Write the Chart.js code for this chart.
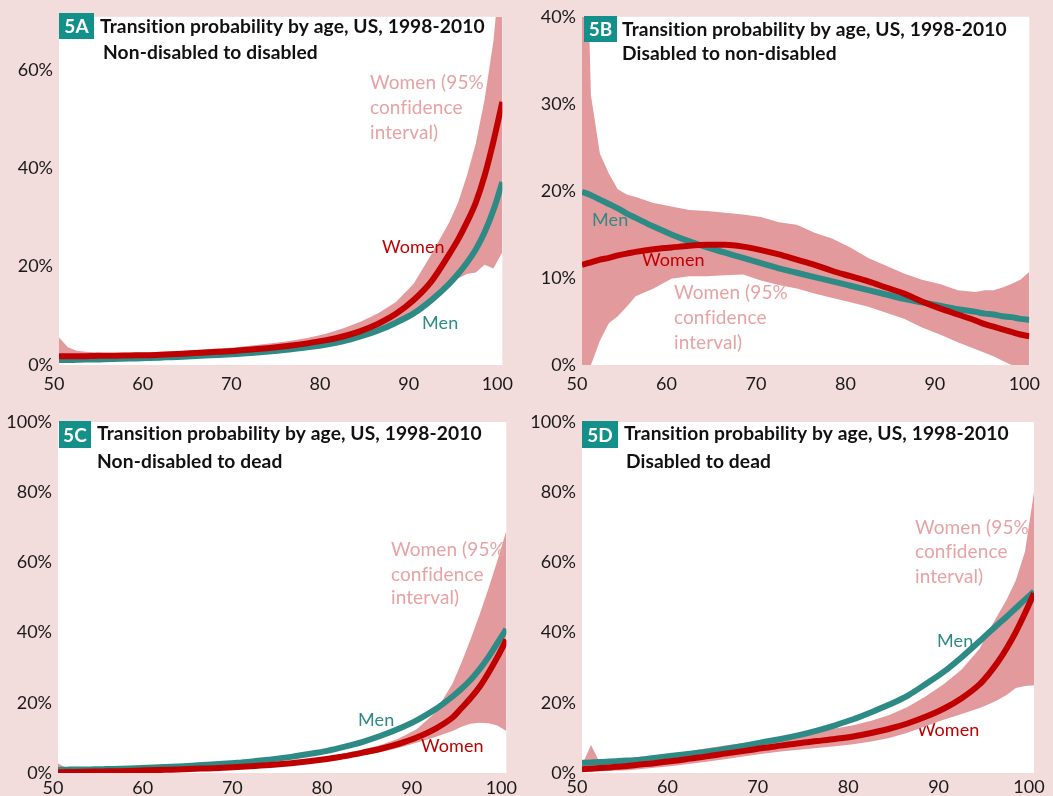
<!DOCTYPE html>
<html>
<head>
<meta charset="utf-8">
<script src="https://cdn.jsdelivr.net/npm/chart.js@4.4.1/dist/chart.umd.min.js"></script>
<style>
  html, body { margin: 0; padding: 0; background: #F2DCDC; }
  #page { position: relative; width: 1053px; height: 796px; background: #F2DCDC; overflow: hidden; }
  canvas { position: absolute; }
</style>
</head>
<body>
<div id="page">
  <canvas id="pA" width="526" height="398" style="left:0px;top:0px;"></canvas>
  <canvas id="pB" width="527" height="398" style="left:526px;top:0px;"></canvas>
  <canvas id="pC" width="526" height="398" style="left:0px;top:398px;"></canvas>
  <canvas id="pD" width="527" height="398" style="left:526px;top:398px;"></canvas>
</div>
<script>
// Ages (years) at which transition probabilities are given
const AGES = [50,51,52,53,54,55,56,58,60,62,64,66,68,70,72,74,76,78,80,82,84,86,88,90,92,94,95,96,97,98,99,100];

// 5A: non-disabled to disabled (%)
const A_WOMEN = [1.8,1.8,1.8,1.8,1.85,1.9,1.9,1.95,2.0,2.15,2.3,2.5,2.7,2.9,3.2,3.5,3.9,4.4,5.0,5.8,6.9,8.4,10.4,13.2,17.0,22.5,25.5,29.0,33.0,38.5,45.5,53.5];
const A_MEN   = [1.0,1.0,1.05,1.1,1.1,1.15,1.2,1.3,1.4,1.55,1.7,1.9,2.05,2.25,2.5,2.8,3.15,3.6,4.1,4.8,5.8,7.0,8.6,10.5,13.2,16.5,18.5,20.8,23.5,27.0,31.5,37.2];
const A_CI_LOW  = [1.3,1.4,1.5,1.5,1.55,1.6,1.6,1.65,1.7,1.85,2.0,2.15,2.35,2.55,2.8,3.05,3.4,3.85,4.35,5.0,5.9,7.1,8.8,11.0,13.8,16.6,17.6,18.5,18.8,20.4,19.6,23.0];
const A_CI_HIGH = [5.6,3.6,2.9,2.7,2.6,2.5,2.5,2.5,2.55,2.7,2.9,3.1,3.35,3.6,4.0,4.4,4.9,5.5,6.3,7.4,8.8,10.5,12.8,16.5,22.5,29.0,33.0,38.5,45.0,54.0,66.0,85.0];

// 5B: disabled to non-disabled (%)
const B_WOMEN = [11.5,11.8,12.1,12.3,12.6,12.8,13.0,13.3,13.5,13.7,13.8,13.8,13.6,13.2,12.7,12.1,11.5,10.8,10.2,9.6,8.9,8.2,7.3,6.5,5.8,5.1,4.7,4.4,4.1,3.8,3.5,3.3];
const B_MEN   = [19.9,19.5,19.0,18.5,18.0,17.4,16.9,15.9,15.0,14.2,13.5,12.9,12.3,11.7,11.1,10.6,10.1,9.6,9.1,8.6,8.1,7.6,7.2,6.8,6.4,6.1,5.9,5.8,5.6,5.5,5.3,5.2];
const B_CI_LOW  = [-5.0,0.0,2.8,4.8,5.6,6.7,7.9,8.8,9.9,10.2,10.2,10.3,10.4,9.7,9.2,8.8,8.2,7.7,7.2,6.7,6.0,5.3,4.3,3.5,2.6,1.8,1.4,1.0,0.5,0.0,-1.5,-3.0];
const B_CI_HIGH = [70.0,31.0,24.3,22.0,20.2,19.6,19.3,18.6,18.2,17.8,17.7,17.5,17.3,17.0,16.4,16.1,15.2,14.5,13.5,12.3,11.4,10.5,9.8,9.3,8.6,8.4,8.6,8.6,8.9,9.3,9.8,10.7];

// 5C: non-disabled to dead (%)
const C_WOMEN = [0.2,0.25,0.3,0.35,0.4,0.45,0.5,0.6,0.75,0.9,1.05,1.25,1.45,1.7,2.0,2.35,2.8,3.35,4.0,4.8,5.8,6.9,8.3,10.1,12.5,15.8,18.5,21.3,24.5,28.5,33.0,38.0];
const C_MEN   = [0.9,0.95,1.0,1.0,1.05,1.1,1.15,1.3,1.5,1.7,1.95,2.25,2.55,2.9,3.4,3.95,4.6,5.4,6.3,7.5,8.9,10.6,12.6,15.0,18.0,21.8,24.0,26.5,29.5,33.0,37.0,41.0];
const C_CI_LOW  = [0.0,0.0,0.1,0.1,0.15,0.2,0.25,0.35,0.5,0.6,0.75,0.95,1.1,1.35,1.6,1.95,2.35,2.85,3.4,4.1,5.0,6.0,7.2,8.6,10.2,12.0,13.2,14.0,14.3,14.2,13.5,12.0];
const C_CI_HIGH = [2.8,1.3,0.9,0.8,0.8,0.8,0.85,0.95,1.1,1.25,1.45,1.65,1.9,2.15,2.5,2.9,3.35,3.95,4.7,5.6,6.7,8.0,9.8,12.5,17.0,25.5,31.5,38.0,45.0,52.5,60.5,69.0];

// 5D: disabled to dead (%)
const D_WOMEN = [1.1,1.2,1.4,1.6,1.8,2.0,2.3,2.8,3.4,4.1,4.8,5.6,6.3,7.1,7.8,8.5,9.1,9.7,10.4,11.4,12.6,14.1,16.0,18.3,21.3,25.3,28.2,31.6,35.6,40.2,45.5,51.2];
const D_MEN   = [2.9,3.0,3.1,3.25,3.4,3.55,3.7,4.3,4.9,5.5,6.1,6.9,7.8,8.8,9.7,10.8,12.1,13.6,15.3,17.3,19.5,22.0,25.3,28.8,33.0,37.6,40.0,42.3,44.6,47.0,49.4,51.7];
const D_CI_LOW  = [0.3,0.4,0.5,0.6,0.7,0.8,1.0,1.5,2.0,2.6,3.3,4.0,4.8,5.5,6.1,6.6,7.1,7.6,8.2,9.0,10.0,11.5,13.3,15.2,16.8,18.5,19.6,20.8,22.3,24.2,24.8,25.0];
const D_CI_HIGH = [2.3,8.0,2.8,3.1,3.4,3.7,4.0,4.8,5.5,6.3,7.1,7.9,8.6,9.3,10.1,10.9,11.8,12.7,13.6,14.9,16.5,18.8,21.8,25.3,29.5,35.5,40.5,45.0,49.5,55.0,63.0,80.0];

const X_TICKS = [50, 60, 70, 80, 90, 100];

const RED = '#C00000';
const TEAL = '#2E8A84';
const BAND = '#E39A9C';
const BAND_TEXT = '#E8A2A4';
const BADGE = '#14908A';
const FONT = 'Lato, "Open Sans", sans-serif';
const TITLE_LINE_1 = 'Transition probability by age, US, 1998-2010';

function pts(values) {
  return AGES.map((a, i) => ({ x: a, y: values[i] }));
}

// bold title font sized so the first title line spans the given width
function titleFont(ctx, width) {
  ctx.font = 'bold 20px ' + FONT;
  const w = ctx.measureText(TITLE_LINE_1).width;
  return 'bold ' + (20 * width / w).toFixed(2) + 'px ' + FONT;
}

// One panel: plot box (left, top, right, bottom) in canvas pixels, y range, texts
function makePanel(id, cfg) {
  const canvas = document.getElementById(id);
  const W = canvas.width, H = canvas.height;
  const box = cfg.box;

  function drawLabels(ctx, under) {
    ctx.textBaseline = 'middle';
    ctx.textAlign = 'left';
    cfg.labels.filter(l => !!l.under === under).forEach(l => {
      ctx.font = (l.size || 18) + 'px ' + FONT;
      ctx.fillStyle = l.color;
      ctx.fillText(l.text, l.x, l.y);
    });
  }

  const panelPlugin = {
    id: 'panelDecor',
    beforeDraw(chart) {
      const { ctx, chartArea: a } = chart;
      ctx.save();
      ctx.fillStyle = '#FFFFFF';
      ctx.fillRect(a.left, a.top, a.right - a.left, a.bottom - a.top);
      drawLabels(ctx, true);   // labels that sit beneath the confidence band
      ctx.restore();
    },
    afterDatasetsDraw(chart) {
      const { ctx } = chart;
      ctx.save();
      if ('letterSpacing' in ctx) ctx.letterSpacing = '0.1px';
      drawLabels(ctx, false);
      // panel badge and title
      const b = cfg.badge;
      ctx.fillStyle = BADGE;
      ctx.fillRect(b.x, b.y, b.w, b.h);
      ctx.fillStyle = '#FFFFFF';
      ctx.font = 'bold 19px ' + FONT;
      ctx.textAlign = 'center';
      ctx.textBaseline = 'middle';
      ctx.fillText(cfg.tag, b.x + b.w / 2, b.y + b.h / 2 + 1);
      ctx.textAlign = 'left';
      ctx.fillStyle = '#111111';
      ctx.font = titleFont(ctx, 385);
      ctx.fillText(TITLE_LINE_1, cfg.title1.x, cfg.title1.y);
      ctx.fillText(cfg.title2.text, cfg.title2.x, cfg.title2.y);
      ctx.restore();
    }
  };

  return new Chart(canvas, {
    type: 'line',
    data: {
      datasets: [
        { label: 'Women', data: pts(cfg.women), borderColor: RED, borderWidth: 6,
          pointRadius: 0, cubicInterpolationMode: 'monotone', fill: false, clip: 0 },
        { label: 'Men', data: pts(cfg.men), borderColor: TEAL, borderWidth: 6,
          pointRadius: 0, cubicInterpolationMode: 'monotone', fill: false, clip: 0 },
        { label: 'Women 95% CI low', data: pts(cfg.lo), borderWidth: 0, borderColor: 'rgba(0,0,0,0)',
          pointRadius: 0, tension: 0, fill: false, clip: 0 },
        { label: 'Women 95% CI high', data: pts(cfg.hi), borderWidth: 0, borderColor: 'rgba(0,0,0,0)',
          backgroundColor: BAND, pointRadius: 0, tension: 0, fill: '-1', clip: 0 }
      ]
    },
    options: {
      responsive: false,
      animation: false,
      events: [],
      layout: { padding: { left: 0, top: box.top, right: W - box.right, bottom: 0 } },
      plugins: {
        legend: { display: false },
        tooltip: { enabled: false },
        filler: { drawTime: 'beforeDatasetsDraw' }
      },
      scales: {
        x: {
          type: 'linear', min: 50, max: 100,
          grid: { display: false, drawTicks: false },
          border: { display: false },
          afterFit(scale) { scale.height = H - box.bottom; },
          afterBuildTicks(scale) { scale.ticks = X_TICKS.map(v => ({ value: v })); },
          ticks: {
            padding: cfg.xPad, labelOffset: -5, maxRotation: 0, autoSkip: false,
            color: '#1A1A1A', font: { family: FONT, size: 18 },
            callback: v => String(v)
          }
        },
        y: {
          type: 'linear', min: 0, max: cfg.yMax,
          grid: { display: false, drawTicks: false },
          border: { display: false },
          afterFit(scale) { scale.width = box.left; },
          afterBuildTicks(scale) { scale.ticks = cfg.yTicks.map(v => ({ value: v })); },
          ticks: {
            padding: 6, color: '#1A1A1A', font: { family: FONT, size: 18 },
            callback: v => v + '%'
          }
        }
      }
    },
    plugins: [panelPlugin]
  });
}

const CI = ['Women (95%', 'confidence', 'interval)'];
function ciLabels(x, ys) {
  return CI.map((t, i) => ({ text: t, x: x, y: ys[i], color: BAND_TEXT, size: 19 }));
}

makePanel('pA', {
  box: { left: 59, top: 13, right: 509, bottom: 365 },
  yMax: 70.8, yTicks: [0, 20, 40, 60], xPad: 8,
  women: A_WOMEN, men: A_MEN, lo: A_CI_LOW, hi: A_CI_HIGH,
  tag: '5A',
  badge: { x: 59, y: 13, w: 35, h: 26 },
  title1: { x: 100, y: 27 },
  title2: { text: 'Non-disabled to disabled', x: 103, y: 53 },
  labels: ciLabels(370, [83, 108, 133]).concat([
    { text: 'Women', x: 382, y: 247, color: RED },
    { text: 'Men', x: 422, y: 323, color: TEAL }
  ])
});

makePanel('pB', {
  box: { left: 56, top: 16, right: 508, bottom: 365 },
  yMax: 40, yTicks: [0, 10, 20, 30, 40], xPad: 8,
  women: B_WOMEN, men: B_MEN, lo: B_CI_LOW, hi: B_CI_HIGH,
  tag: '5B',
  badge: { x: 58, y: 16, w: 33, h: 26 },
  title1: { x: 96, y: 30 },
  title2: { text: 'Disabled to non-disabled', x: 96, y: 54 },
  labels: ciLabels(148, [293, 318, 343]).concat([
    { text: 'Men', x: 66, y: 220, color: TEAL },
    { text: 'Women', x: 116, y: 260, color: RED }
  ])
});

makePanel('pC', {
  box: { left: 58, top: 24, right: 509, bottom: 375 },
  yMax: 100, yTicks: [0, 20, 40, 60, 80, 100], xPad: 4,
  women: C_WOMEN, men: C_MEN, lo: C_CI_LOW, hi: C_CI_HIGH,
  tag: '5C',
  badge: { x: 59, y: 23, w: 32, h: 27 },
  title1: { x: 97, y: 36 },
  title2: { text: 'Non-disabled to dead', x: 97, y: 64 },
  labels: ciLabels(391, [152, 177, 200]).concat([
    { text: 'Men', x: 358, y: 322, color: TEAL },
    { text: 'Women', x: 421, y: 348, color: RED }
  ])
});

makePanel('pD', {
  box: { left: 56, top: 24, right: 508, bottom: 375 },
  yMax: 100, yTicks: [0, 20, 40, 60, 80, 100], xPad: 3,
  women: D_WOMEN, men: D_MEN, lo: D_CI_LOW, hi: D_CI_HIGH,
  tag: '5D',
  badge: { x: 56, y: 23, w: 36, h: 27 },
  title1: { x: 98, y: 36 },
  title2: { text: 'Disabled to dead', x: 100, y: 64 },
  labels: ciLabels(389, [130, 154, 179]).concat([
    { text: 'Men', x: 411, y: 243, color: TEAL },
    { text: 'Women', x: 391, y: 332, color: RED, under: true }
  ])
});
</script>
</body>
</html>
